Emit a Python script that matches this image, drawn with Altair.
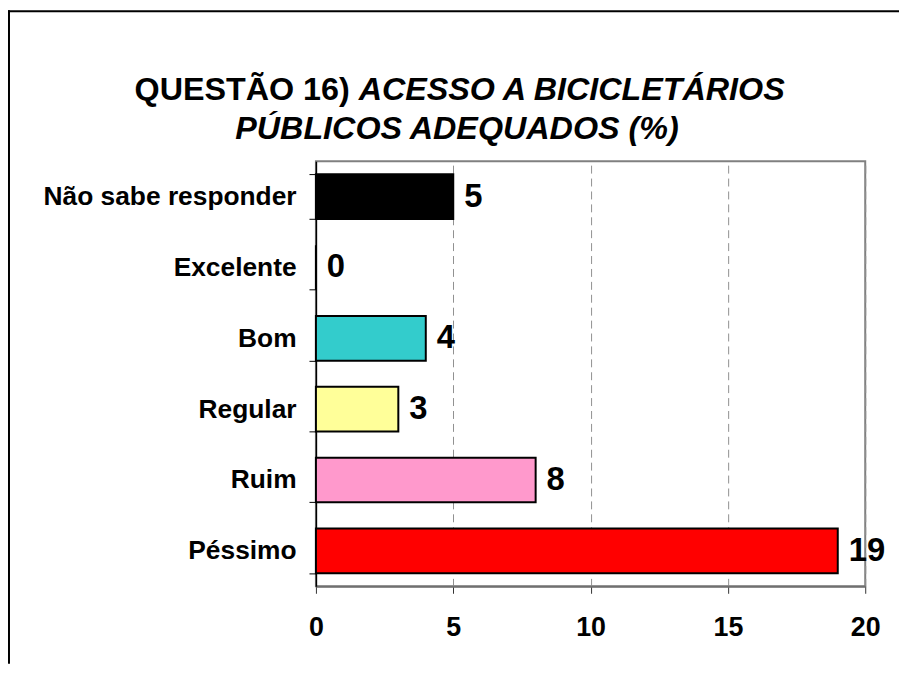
import altair as alt
import pandas as pd

categories = ["Não sabe responder", "Excelente", "Bom", "Regular", "Ruim", "Péssimo"]
values = [5, 0, 4, 3, 8, 19]
colors = ["#000000", "#FFFFFF", "#33CCCC", "#FFFF99", "#FF99CC", "#FF0000"]
x_ticks = [0, 5, 10, 15, 20]
title_part1 = "QUESTÃO 16)"
title_part2 = "ACESSO A BICICLETÁRIOS"
title_line2 = "PÚBLICOS ADEQUADOS (%)"

FONT = "Liberation Sans"
W, H = 553, 428
PAD_L, PAD_T, PAD_R, PAD_B = 310, 152, 34, 78

df = pd.DataFrame({"Categoria": categories, "Valor": values})

y_enc = alt.Y(
    "Categoria:N",
    sort=categories,
    scale=alt.Scale(paddingInner=0.37, paddingOuter=0.185),
    axis=alt.Axis(
        title=None, labelFont=FONT, labelFontSize=26.5, labelFontWeight="bold",
        labelColor="black", tickSize=7, tickColor="black", tickBand="extent",
        labelPadding=13, domainColor="black", domainWidth=1.5, grid=False,
        labelLimit=400,
    ),
)
x_enc = alt.X(
    "Valor:Q",
    scale=alt.Scale(domain=[0, 20], nice=False),
    axis=alt.Axis(
        title=None, values=x_ticks, labelFont=FONT, labelFontSize=27,
        labelFontWeight="bold", labelColor="black", tickSize=7, tickColor="#333333",
        labelPadding=22, domainColor="#707070", domainWidth=2,
        grid=True, gridColor="#909090", gridDash=[8, 5], gridWidth=1,
        labelFlush=False,
    ),
)

bars = alt.Chart(df).mark_bar(stroke="black", strokeWidth=2).encode(
    y=y_enc,
    x=x_enc,
    color=alt.Color("Categoria:N", scale=alt.Scale(domain=categories, range=colors), legend=None),
)

labels = alt.Chart(df).mark_text(
    align="left", baseline="middle", dx=11, font=FONT, fontSize=33,
    fontWeight="bold", color="black",
).encode(
    y=alt.Y("Categoria:N", sort=categories),
    x=alt.X("Valor:Q"),
    text=alt.Text("Valor:Q"),
)

one = pd.DataFrame({"t": [""]})
t1 = alt.Chart(pd.DataFrame({"t": [title_part1]})).mark_text(
    align="right", baseline="middle", font=FONT, fontSize=32.5, fontWeight="bold", color="black",
).encode(x=alt.value(34), y=alt.value(-72), text="t:N")
t2 = alt.Chart(pd.DataFrame({"t": [title_part2]})).mark_text(
    align="left", baseline="middle", font=FONT, fontSize=32.5, fontWeight="bold",
    fontStyle="italic", color="black",
).encode(x=alt.value(43), y=alt.value(-72), text="t:N")
t3 = alt.Chart(pd.DataFrame({"t": [title_line2]})).mark_text(
    align="center", baseline="middle", font=FONT, fontSize=32.5, fontWeight="bold",
    fontStyle="italic", color="black",
).encode(x=alt.value(142), y=alt.value(-32), text="t:N")

frame_left = alt.Chart(one).mark_rule(color="black", strokeWidth=2).encode(
    x=alt.value(-PAD_L + 1), y=alt.value(-PAD_T), y2=alt.value(H + PAD_B)
)
frame_top = alt.Chart(one).mark_rule(color="black", strokeWidth=2).encode(
    x=alt.value(-PAD_L), x2=alt.value(W + PAD_R), y=alt.value(-PAD_T + 1)
)

chart = alt.layer(bars, labels, t1, t2, t3, frame_left, frame_top).properties(
    width=W, height=H,
    autosize=alt.AutoSizeParams(type="none"),
    padding={"left": PAD_L, "top": PAD_T, "right": PAD_R, "bottom": PAD_B},
    background="white",
).configure_view(stroke="#808080", strokeWidth=2)

chart.save("out.html", embed_options={"renderer": "svg", "actions": False})
